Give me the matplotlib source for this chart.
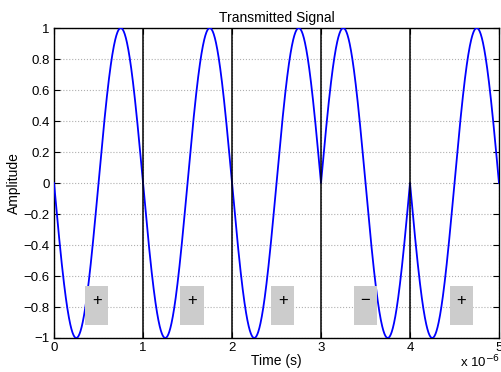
import numpy as np
import matplotlib.pyplot as plt
from matplotlib.patches import Rectangle
from matplotlib.ticker import FuncFormatter

# symbol signs of the transmitted bits (one per microsecond)
bits = [1, 1, 1, -1, 1]
bit_labels = ['+', '+', '+', '\u2212', '+']
label_x = [0.48, 1.55, 2.57, 3.50, 4.58]   # label centres, in microseconds
Tb = 1e-6
fc = 1e6

plt.rcParams['font.family'] = ['Liberation Sans', 'DejaVu Sans']


def ytick(v, p):
    v = round(v, 6)
    if v == 0:
        return '0'
    return ('%g' % v).replace('-', '\u2212')


fig = plt.figure(figsize=(5.02, 3.72), dpi=100)
ax = fig.add_axes([0.1076, 0.0914, 0.8864, 0.8333])

t = np.linspace(0, len(bits) * Tb, 2001)
idx = np.minimum((t / Tb).astype(int), len(bits) - 1)
b = np.array(bits)[idx]
s = -b * np.sin(2 * np.pi * fc * t)
ax.plot(t, s, color='#0000ff', lw=1.3, zorder=3)

for k in range(1, len(bits)):
    ax.plot([k * Tb, k * Tb], [-1, 1], color='black', lw=1.1, zorder=4)

for lx, lab in zip(label_x, bit_labels):
    ax.add_patch(Rectangle((lx * 1e-6 - 0.13e-6, -0.915), 0.26e-6, 0.25,
                           facecolor='#cccccc', edgecolor='none', zorder=5))
    ax.text(lx * 1e-6, -0.76, lab, ha='center', va='center', fontsize=12, zorder=6)

ax.set_xlim(0, len(bits) * Tb)
ax.set_ylim(-1, 1)
ax.set_xticks(np.arange(0, 6) * 1e-6)
ax.set_yticks(np.round(np.arange(-1, 1.01, 0.2), 1))
ax.xaxis.set_major_formatter(FuncFormatter(lambda v, p: '%g' % round(v / 1e-6, 6)))
ax.yaxis.set_major_formatter(FuncFormatter(ytick))
ax.tick_params(direction='in', length=4, labelsize=9.5, top=True, right=True, pad=3)
ax.grid(True, linestyle=':', color='#b0b0b0', lw=0.8)
ax.set_axisbelow(True)
for sp in ax.spines.values():
    sp.set_linewidth(1.0)

ax.set_title('Transmitted Signal', fontsize=10, pad=4)
ax.set_xlabel('Time (s)', fontsize=10, labelpad=0)
ax.set_ylabel('Amplitude', fontsize=10, labelpad=2)
fig.text(0.996, 0.004, r'x 10$^{-6}$', fontsize=9.5, ha='right', va='bottom')

fig.savefig('out.png', dpi=100)
